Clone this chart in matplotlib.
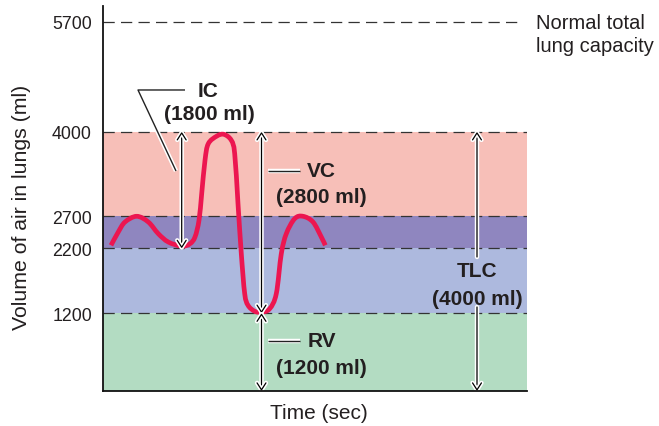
import numpy as np
import matplotlib
matplotlib.use("Agg")
import matplotlib.pyplot as plt
from matplotlib.path import Path
from matplotlib.patches import PathPatch
import matplotlib.patheffects as pe

plt.rcParams['font.family'] = ['Liberation Sans', 'DejaVu Sans']

# Lung volume boundaries (ml)
RV = 1200
FRC = 2200
TIDAL_TOP = 2700
TLC = 4000
NORMAL_TLC = 5700
ytick_values = [1200, 2200, 2700, 4000, 5700]

# Spirometer trace: time (arbitrary units) and volume (ml)
trace_t = [0.8, 1.53, 2.2, 3.37, 4.53, 5.53, 6.53, 7.87, 8.7, 9.2, 9.6, 9.87,
           10.2, 10.53, 11.4, 12.1, 12.83, 13.17, 13.5, 13.83, 14.17, 14.5,
           15.17, 15.85, 16.67, 17.33, 17.83, 18.33, 19.17, 20.0, 21.0, 21.83, 22.23]
trace_v = [2248, 2454, 2608, 2696, 2608, 2427, 2299, 2235, 2273, 2377, 2634, 3045,
           3560, 3816, 3935, 3960, 3869, 3662, 2890, 2119, 1502, 1323,
           1230, 1215, 1270, 1502, 2119, 2427, 2660, 2696, 2608, 2377, 2248]

# Band fill colours (bottom to top)
band_edges = [0, RV, FRC, TIDAL_TOP, TLC]
band_colors = ['#b3dcc2', '#adb9de', '#8f86bf', '#f7bfb8']

TXT = '#231f20'

fig = plt.figure(figsize=(6.59, 4.27), dpi=100)
ax = fig.add_axes([103 / 659, 1 - 392 / 427, 424 / 659, 385 / 427])
ax.set_xlim(0, 42.4)
ax.set_ylim(0, 5941)

for lo, hi, c in zip(band_edges[:-1], band_edges[1:], band_colors):
    ax.axhspan(lo, hi, color=c, lw=0, zorder=0)

dash = (0, (9, 5))
for v in [RV, FRC, TIDAL_TOP, TLC]:
    ax.axhline(v, color='#333333', lw=0.9, ls=dash, zorder=1)
ax.plot([0, 41.9], [NORMAL_TLC, NORMAL_TLC], color='#333333', lw=0.9, ls=dash, zorder=1)

# Smooth trace through the sampled points (Catmull-Rom as cubic Bezier)
pts = np.column_stack([trace_t, trace_v]).astype(float)
ext = np.vstack([pts[0], pts, pts[-1]])
verts = [tuple(pts[0])]
codes = [Path.MOVETO]
for i in range(1, len(ext) - 2):
    p0, p1, p2, p3 = ext[i - 1], ext[i], ext[i + 1], ext[i + 2]
    c1 = p1 + (p2 - p0) / 6.0
    c2 = p2 - (p3 - p1) / 6.0
    verts += [tuple(c1), tuple(c2), tuple(p2)]
    codes += [Path.CURVE4] * 3
ax.add_patch(PathPatch(Path(verts, codes), fill=False, edgecolor='#ec1650',
                       lw=3.4, capstyle='butt', joinstyle='round', zorder=3))

halo = [pe.withStroke(linewidth=3.2, foreground='white')]


def arrow(x, y0, y1, style='<->'):
    ax.annotate('', xy=(x, y1), xytext=(x, y0),
                arrowprops=dict(arrowstyle=f'{style},head_length=0.5,head_width=0.32',
                                color='black', lw=0.9, shrinkA=0, shrinkB=0,
                                mutation_scale=10, path_effects=halo),
                zorder=4, annotation_clip=False)


IC_X, VC_X, TLC_X = 7.87, 15.85, 37.4
arrow(IC_X, FRC, TLC)
arrow(VC_X, RV, TLC)
arrow(VC_X, 0, RV)
arrow(TLC_X, 2068, TLC, '->')
arrow(TLC_X, 1296, 0, '->')


def leader(xs, ys):
    ax.plot(xs, ys, color='#222222', lw=1.0, zorder=4, clip_on=False,
            solid_capstyle='butt', path_effects=halo)


leader([8.2, 3.5, 7.3], [4645, 4645, 3395])
leader([16.5, 19.7], [3395, 3395])
leader([16.5, 19.7], [772, 772])

bold = dict(fontsize=15, fontweight='bold', color=TXT, zorder=5)
ax.text(10.55, 4630, 'IC', ha='center', va='center', **bold)
ax.text(10.6, 4275, '(1800 ml)', ha='center', va='center', **bold)
ax.text(20.4, 3395, 'VC', ha='left', va='center', **bold)
ax.text(21.8, 3009, '(2800 ml)', ha='center', va='center', **bold)
ax.text(20.5, 772, 'RV', ha='left', va='center', **bold)
ax.text(21.8, 370, '(1200 ml)', ha='center', va='center', **bold)
ax.text(TLC_X, 1856, 'TLC', ha='center', va='center', **bold)
ax.text(TLC_X, 1435, '(4000 ml)', ha='center', va='center', **bold)

ax.text(43.3, 5694, 'Normal total', ha='left', va='center', fontsize=14.5,
        color=TXT, clip_on=False)
ax.text(43.3, 5324, 'lung capacity', ha='left', va='center', fontsize=14.5,
        color=TXT, clip_on=False)

ax.set_yticks(ytick_values)
ax.set_yticklabels([str(v) for v in ytick_values])
ax.tick_params(axis='y', length=0, pad=8, labelsize=12.8, labelcolor=TXT)
ax.set_xticks([])

ax.set_ylabel('Volume of air in lungs (ml)', fontsize=15.3, color=TXT, va='center')
ax.yaxis.set_label_coords(-0.193, 0.48)
ax.set_xlabel('Time (sec)', fontsize=15, color=TXT, va='center')
ax.xaxis.set_label_coords(0.508, -0.055)

for s in ['top', 'right']:
    ax.spines[s].set_visible(False)
for s in ['left', 'bottom']:
    ax.spines[s].set_linewidth(1.3)
    ax.spines[s].set_color('#111111')
    ax.spines[s].set_zorder(6)

fig.savefig('out.png', dpi=100)
